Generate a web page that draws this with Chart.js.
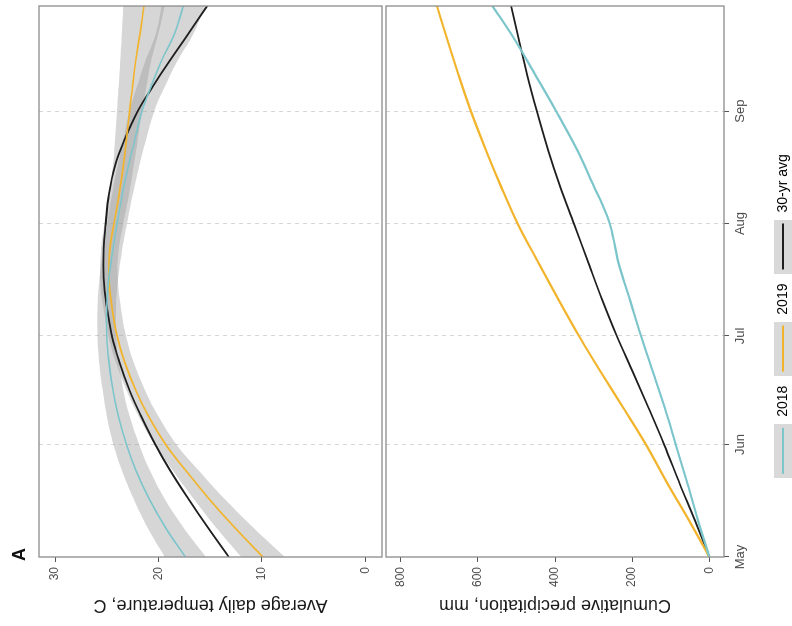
<!DOCTYPE html>
<html>
<head>
<meta charset="utf-8">
<script src="https://cdn.jsdelivr.net/npm/chart.js@4.4.1/dist/chart.umd.min.js"></script>
<style>
  html, body { margin: 0; padding: 0; background: #fff; overflow: hidden; }
  /* the figure is drawn upright, then turned a quarter turn to the left like the reference */
  #figure { position: absolute; left: 0; top: 0; width: 626px; height: 792px;
    transform-origin: 0 0; transform: translate(0px, 626px) rotate(-90deg); }
  #figure canvas { position: absolute; left: 0; }
  #tempChart { top: 0; }
  #precChart { top: 384px; }
</style>
</head>
<body>
<div id="figure">
  <canvas id="tempChart" width="626" height="384"></canvas>
  <canvas id="precChart" width="626" height="420"></canvas>
</div>
<script>
// Datos (day 0 = May 1)
const monthDays = [0, 31, 61, 92, 123];
const monthLabels = ['May', 'Jun', 'Jul', 'Aug', 'Sep'];
const seriesLabels = ['2018', '2019', '30-yr avg'];

const tempTicks = [0, 10, 20, 30];
const tempDays = [0, 8, 16, 24, 31, 39, 46, 54, 61, 69, 77, 85, 92, 100, 108, 115, 123, 130, 137, 144, 152];
const temp2018 = [17.4, 19.3, 20.9, 22.2, 23.1, 23.9, 24.4, 24.8, 25.0, 25.0, 24.8, 24.4, 24.0, 23.5, 22.9, 22.3, 21.6, 20.7, 19.7, 18.5, 17.6];
const temp2019 = [9.9, 12.6, 15.1, 17.4, 19.3, 21.0, 22.2, 23.3, 24.0, 24.5, 24.8, 24.7, 24.3, 23.8, 23.4, 23.1, 22.8, 22.5, 22.2, 21.8, 21.4];
const temp30yr = [13.2, 15.2, 17.1, 18.9, 20.3, 21.7, 22.8, 23.8, 24.5, 25.0, 25.3, 25.3, 25.1, 24.8, 24.2, 23.3, 22.0, 20.5, 18.9, 17.2, 15.3];
// half width of the grey confidence bands
const se2018 = [2.0, 1.75, 1.5, 1.35, 1.25, 1.1, 1.0, 0.95, 0.9, 0.9, 0.9, 0.9, 0.95, 1.0, 1.05, 1.1, 1.2, 1.35, 1.55, 1.8, 2.1];
const se2019 = [2.1, 1.8, 1.5, 1.25, 1.05, 0.95, 0.9, 0.85, 0.85, 0.85, 0.85, 0.85, 0.9, 0.95, 1.0, 1.1, 1.2, 1.35, 1.5, 1.75, 2.0];

const precTicks = [0, 200, 400, 600, 800];
const precDays = [0, 10, 20, 31, 41, 51, 61, 71, 81, 92, 102, 112, 123, 133, 143, 152];
const prec2019 = [0, 52, 107, 164, 222, 281, 338, 391, 442, 497, 539, 578, 618, 650, 680, 706];
const prec30yr = [0, 37, 76, 117, 157, 198, 240, 278, 313, 351, 386, 417, 447, 472, 494, 514];
const precDays2018 = [0, 10, 20, 31, 41, 51, 61, 71, 81, 88, 92, 97, 102, 112, 123, 133, 143, 152];
const prec2018 = [0, 29, 56, 87, 115, 146, 177, 206, 235, 249, 258, 276, 298, 341, 397, 451, 506, 562];

const colors = ['#7cc5cb', '#f2b42c', '#1e1e1e'];
const bandColor = 'rgba(153, 153, 153, 0.4)';

Chart.defaults.font.family = "'Liberation Sans', Arial, sans-serif";

const pts = (xs, ys) => xs.map((x, i) => ({ x: x, y: ys[i] }));

function lineSet(label, xs, ys, color, width, curve) {
    const ds = { label: label, data: pts(xs, ys), borderColor: color, borderWidth: width,
        pointRadius: 0, fill: false, order: 1 };
    if (curve === 'monotone') ds.cubicInterpolationMode = 'monotone';
    else ds.tension = 0.4;
    return ds;
}

function bandSets(values, se) {
    const up = values.map((v, i) => v + se[i]);
    const low = values.map((v, i) => v - se[i]);
    return [
        { label: 'band', data: pts(tempDays, up), fill: '+1', backgroundColor: bandColor,
          borderWidth: 0, pointRadius: 0, order: 5, tension: 0.4 },
        { label: 'band', data: pts(tempDays, low), fill: false,
          borderWidth: 0, pointRadius: 0, order: 5, tension: 0.4 }
    ];
}

function xScale(showTicks) {
    return {
        type: 'linear', min: 0, max: 152,
        afterBuildTicks: s => { s.ticks = monthDays.map(v => ({ value: v })); },
        afterFit: s => { s.height = showTicks ? 42 : 2; },
        ticks: { display: showTicks, autoSkip: false, maxRotation: 0, padding: 4,
            color: '#4d4d4d', font: { size: 13 },
            callback: v => monthLabels[monthDays.indexOf(v)] },
        grid: { color: c => (c.tick && c.tick.value === 0) ? 'rgba(0,0,0,0)' : '#d6d6d6',
            drawTicks: showTicks, tickLength: 5, tickColor: '#555', tickBorderDash: [] },
        border: { display: false, dash: [4, 4] }
    };
}

function yScale(min, max, tickVals, title) {
    return {
        min: min, max: max,
        afterBuildTicks: s => { s.ticks = tickVals.map(v => ({ value: v })); },
        afterFit: s => {
            s.width = 69;
            // no extra room for the first/last label, the panels sit edge to edge
            s.paddingTop = 0;
            s.paddingBottom = 0;
        },
        ticks: { padding: 5, color: '#4d4d4d', font: { size: 12 } },
        grid: { drawOnChartArea: false, drawTicks: true, tickLength: 5, tickColor: '#555' },
        border: { display: false },
        title: { display: true, text: title, color: '#1a1a1a', font: { size: 18 },
            padding: { top: 10, bottom: 0 } }
    };
}

// panel border
const frame = {
    id: 'frame',
    afterDatasetsDraw(chart) {
        const { ctx, chartArea: a } = chart;
        ctx.save();
        ctx.strokeStyle = '#8c8c8c';
        ctx.lineWidth = 1.3;
        ctx.strokeRect(a.left, a.top, a.right - a.left, a.bottom - a.top);
        ctx.restore();
    }
};

const panelTag = {
    id: 'panelTag',
    afterDraw(chart) {
        const ctx = chart.ctx;
        ctx.save();
        ctx.fillStyle = '#111';
        ctx.font = "bold 18px 'Liberation Sans', Arial, sans-serif";
        ctx.fillText('A', 65, 25);
        ctx.restore();
    }
};

function legendKey(color) {
    const c = document.createElement('canvas');
    c.width = 54;
    c.height = 18;
    const g = c.getContext('2d');
    g.fillStyle = '#d9d9d9';
    g.fillRect(0, 0, 54, 18);
    g.strokeStyle = color;
    g.lineWidth = 2;
    g.beginPath();
    g.moveTo(4, 9);
    g.lineTo(50, 9);
    g.stroke();
    return c;
}

new Chart(document.getElementById('tempChart'), {
    type: 'line',
    data: {
        datasets: [
            ...bandSets(temp2018, se2018),
            ...bandSets(temp2019, se2019),
            lineSet(seriesLabels[0], tempDays, temp2018, colors[0], 1.6),
            lineSet(seriesLabels[1], tempDays, temp2019, colors[1], 1.7),
            lineSet(seriesLabels[2], tempDays, temp30yr, colors[2], 1.8)
        ]
    },
    options: {
        responsive: false,
        animation: false,
        layout: { padding: { top: 39, right: 6, left: 0, bottom: 0 } },
        scales: {
            x: xScale(false),
            y: yScale(-1.6, 31.55, tempTicks, 'Average daily temperature, C')
        },
        plugins: { legend: { display: false }, tooltip: { enabled: false } }
    },
    plugins: [frame, panelTag]
});

new Chart(document.getElementById('precChart'), {
    type: 'line',
    data: {
        datasets: [
            lineSet(seriesLabels[0], precDays2018, prec2018, colors[0], 2.2, 'monotone'),
            lineSet(seriesLabels[1], precDays, prec2019, colors[1], 2.2, 'monotone'),
            lineSet(seriesLabels[2], precDays, prec30yr, colors[2], 1.8, 'monotone')
        ]
    },
    options: {
        responsive: false,
        animation: false,
        layout: { padding: { top: 2, right: 6, left: 0, bottom: 4 } },
        scales: {
            x: xScale(true),
            y: yScale(-38, 838, precTicks, 'Cumulative precipitation, mm')
        },
        plugins: {
            tooltip: { enabled: false },
            legend: {
                position: 'bottom',
                labels: {
                    usePointStyle: true, pointStyleWidth: 54, padding: 10,
                    color: '#1a1a1a', font: { size: 14 },
                    generateLabels: () => seriesLabels.map((t, i) => ({
                        text: t, pointStyle: legendKey(colors[i]), fillStyle: '#d9d9d9',
                        strokeStyle: colors[i], lineWidth: 0, hidden: false, datasetIndex: i
                    }))
                }
            }
        }
    },
    plugins: [frame]
});
</script>
</body>
</html>
